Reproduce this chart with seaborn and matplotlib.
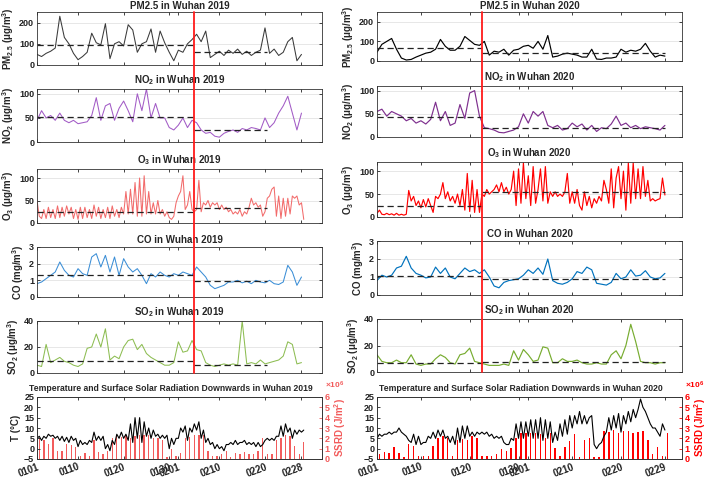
import numpy as np
import seaborn as sns
import matplotlib.pyplot as plt
from matplotlib.lines import Line2D
from matplotlib.ticker import FuncFormatter

sns.set_theme(style='ticks')
plt.rcParams['font.family'] = ['Liberation Sans', 'DejaVu Sans']
plt.rcParams['font.weight'] = 'bold'
plt.rcParams['axes.labelweight'] = 'bold'
plt.rcParams['axes.titleweight'] = 'bold'
plt.rcParams['mathtext.fontset'] = 'custom'
plt.rcParams['mathtext.rm'] = 'Liberation Sans:bold'
plt.rcParams['mathtext.it'] = 'Liberation Sans:bold'
plt.rcParams['mathtext.bf'] = 'Liberation Sans:bold'
plt.rcParams['mathtext.default'] = 'bf'

# ---- data (days since 1 Jan) ----
pm25_2019 = [50, 40, 55, 65, 80, 230, 130, 100, 55, 25, 40, 60, 150, 105, 95, 195, 30, 100, 110, 90,
             190, 165, 60, 100, 110, 170, 60, 160, 105, 60, 20, 70, 60, 100, 120, 145, 110, 160, 35, 50,
             65, 45, 70, 55, 75, 50, 65, 45, 60, 70, 175, 55, 75, 45, 60, 110, 130, 20, 50]
no2_2019 = [45, 65, 50, 55, 45, 60, 45, 40, 45, 38, 40, 42, 55, 92, 45, 75, 80, 45, 70, 85,
            65, 42, 100, 65, 110, 50, 80, 50, 50, 30, 25, 35, 50, 30, 45, 40, 25, 18, 20, 12,
            10, 18, 22, 25, 20, 28, 25, 30, 28, 25, 50, 30, 40, 60, 75, 95, 60, 25, 60]
o3_2019 = [50, 15, 10, 30, 10, 35, 12, 30, 10, 38, 12, 35, 15, 38, 20, 35, 10, 30, 8, 35,
           10, 35, 12, 30, 10, 40, 15, 35, 10, 30, 12, 35, 10, 38, 15, 30, 12, 35, 20, 70,
           20, 75, 20, 90, 15, 100, 15, 105, 20, 70, 20, 45, 20, 50, 20, 30, 15, 25, 12, 8,
           15, 45, 60, 70, 105, 30, 40, 70, 30, 25, 30, 95, 25, 45, 40, 50, 35, 45, 40, 45,
           30, 40, 30, 35, 25, 30, 20, 25, 20, 30, 15, 25, 20, 35, 55, 40, 45, 35, 40, 15,
           25, 55, 60, 75, 80, 15, 60, 10, 55, 15, 55, 20, 60, 55, 60, 40, 45, 8]
co_2019 = [0.8, 0.9, 1.1, 1.3, 1.5, 2.1, 1.6, 1.3, 1.2, 1.7, 1.4, 1.3, 2.4, 2.6, 1.8, 2.5, 1.5, 2.4, 1.3, 2.3,
           1.8, 1.5, 1.7, 1.3, 0.8, 1.4, 1.2, 1.5, 1.3, 1.2, 1.4, 1.3, 1.5, 1.4, 1.3, 1.8, 1.5, 1.2, 0.7, 0.5,
           0.6, 0.7, 0.9, 0.9, 1.0, 0.85, 0.95, 0.8, 1.0, 0.9, 0.85, 1.0, 0.8, 0.75, 0.9, 1.9, 1.5, 0.7, 1.2]
so2_2019 = [6, 5, 22, 8, 10, 12, 9, 8, 6, 5, 7, 19, 20, 30, 20, 34, 10, 13, 11, 20,
            25, 26, 18, 22, 15, 12, 10, 8, 6, 6, 8, 24, 16, 17, 25, 18, 17, 8, 6, 5,
            6, 7, 6, 7, 6, 40, 7, 8, 7, 10, 7, 8, 9, 10, 13, 24, 22, 7, 8]
temp_2019 = [5, 6, 4, 6, 5, 7, 6, 6.5, 5, 6, 4, 6, 3.5, 5.5, 3, 6, 4, 5, 1, 4,
             2, 3, 2, 4, 3, 8, 4, 6, 4, 6, 0, 2, -1, 4, 2, 7, 5, 8, 5, 7,
             4, 12, 3, 15, 5, 15, 3, 13, 6, 10, 5, 9, 6, 7, 5, 6.5, 5, 6.5, 0, 5,
             2, 5, 5, 10, 8, 11, 4, 10, 8, 12, 9, 13, 5, 9, 3, 5, 2, 3, 0, 2,
             0, 1, -1, 2, 2, 3, 2, 4, 2, 3, 3, 4, 2, 3, 2, 3, 1, 3, 1, 2,
             4, 5, 4, 5, 4, 6, 6, 11, 6, 12, 8, 10, 5, 9, 7, 9, 8, 9]
ssrd_2019 = [2.0, 1.8, 1.5, 2.0, 0.8, 0.8, 1.5, 1.4, 1.2, 0.3, 0.6, 0.3, 1.8, 0.7, 0.5, 0.8, 2.0, 2.2, 2.1, 2.3,
             2.0, 2.2, 2.3, 2.3, 2.3, 2.0, 2.0, 1.8, 0.2, 1.0, 0.3, 0.6, 2.0, 2.1, 2.3, 2.3, 2.3, 0.8, 0.3, 0.3,
             0.5, 0.8, 0.2, 0.6, 0.5, 0.7, 0.5, 0.5, 0.8, 2.0, 0.5, 0.5, 1.8, 2.0, 2.3, 2.2, 1.3, 0.5, 1.6]

pm25_2020 = [45, 85, 100, 115, 60, 15, 5, 8, 20, 30, 40, 45, 60, 110, 75, 55, 55, 75, 125, 105,
             85, 80, 100, 30, 50, 45, 60, 30, 55, 60, 75, 80, 65, 100, 60, 130, 20, 25, 35, 40,
             35, 30, 20, 20, 60, 10, 8, 15, 15, 20, 60, 45, 55, 50, 60, 90, 50, 20, 30, 25]
no2_2020 = [55, 60, 45, 55, 50, 45, 35, 40, 30, 35, 28, 38, 75, 35, 55, 25, 30, 70, 40, 95,
            100, 45, 20, 18, 15, 10, 9, 12, 15, 22, 50, 30, 55, 45, 55, 25, 20, 25, 15, 18,
            30, 22, 28, 15, 25, 12, 20, 18, 28, 45, 25, 30, 20, 25, 18, 22, 20, 18, 15, 25]
o3_2020 = [8, 15, 6, 5, 8, 5, 7, 4, 8, 4, 6, 4, 6, 58, 35, 45, 25, 35, 20, 38,
           22, 40, 25, 10, 45, 40, 50, 75, 40, 55, 35, 45, 30, 50, 25, 60, 15, 95, 12, 80,
           10, 60, 10, 50, 45, 60, 50, 55, 60, 70, 55, 75, 55, 65, 50, 60, 100, 25, 105, 30,
           118, 40, 90, 25, 110, 30, 60, 105, 35, 110, 30, 55, 45, 55, 45, 50, 45, 55, 95, 30,
           55, 30, 60, 25, 15, 55, 25, 45, 20, 40, 30, 45, 35, 80, 60, 30, 105, 20, 85, 110,
           40, 100, 15, 118, 30, 118, 40, 105, 40, 110, 45, 80, 35, 40, 35, 38, 40, 85, 48]
co_2020 = [0.8, 1.1, 1.0, 1.1, 1.5, 1.6, 2.15, 1.5, 1.2, 1.1, 0.95, 1.0, 1.55, 1.2, 1.5, 1.0, 0.9, 1.2, 1.5, 1.3,
           1.4, 1.2, 1.4, 1.0, 0.5, 0.4, 0.7, 0.8, 0.85, 0.9, 1.1, 1.4, 1.2, 1.5, 1.15, 2.0, 0.8, 0.65, 0.6, 0.7,
           0.9, 1.3, 1.2, 1.55, 1.4, 0.65, 0.6, 0.55, 0.7, 1.2, 0.9, 1.0, 1.4, 1.05, 1.1, 1.35, 1.0, 0.9, 0.95, 1.2]
so2_2020 = [13, 8, 7, 7, 9, 7, 7, 13, 6, 5, 6, 6, 10, 13, 11, 7, 6, 13, 14, 18,
            8, 7, 6, 5, 5, 5, 6, 5, 16, 9, 17, 13, 8, 9, 19, 18, 7, 7, 10, 8,
            8, 9, 7, 6, 6, 7, 6, 6, 13, 16, 10, 20, 36, 23, 8, 7, 7, 6, 7, 7]
temp_2020 = [5, 7, 6, 7, 7, 8, 7, 8, 8, 10, 8, 7, 6, 4, 3, 7, 2, 6, 2, 3,
             3, 6, 5, 8, 5, 9, 6, 9, 5, 6, 3, 6, 2, 10, 3, 11, 5, 11, 6, 8,
             6, 8, 7, 8, 7, 8, 6, 7, 5, 6, 5, 6, 3, 2, 2, 5, 4, 12, 5, 13,
             5, 13, 6, 14, 5, 14, 5, 15, 4, 14, 5, 13, 3, 8, 4, 12, 6, 14, 7, 16,
             10, 16, 12, 18, 12, 16, 12, 15, 16, 2, 0, 2, 3, 6, 8, 15, 9, 16, 10, 17,
             8, 16, 12, 18, 13, 19, 15, 19, 24, 20, 18, 15, 12, 10, 10, 8, 6, 12, 9]
ssrd_2020 = [0.5, 0.7, 0.6, 1.2, 0.6, 0.2, 1.5, 1.3, 0.3, 0.3, 0.3, 1.3, 2.0, 2.2, 2.0, 0.3, 1.8, 1.9, 1.8, 2.2,
             2.0, 0.3, 0.3, 0.3, 0.5, 1.0, 0.8, 1.1, 2.0, 2.5, 2.5, 2.5, 2.5, 2.4, 2.0, 2.5, 1.1, 0.3, 1.2, 1.7,
             2.4, 0.2, 1.8, 2.0, 0.2, 0.2, 2.7, 2.6, 2.8, 2.5, 2.7, 2.7, 2.5, 2.6, 2.7, 1.8, 0.5, 1.2, 0.3, 2.5]

# period means (dashed lines): before / after the event
means_2019 = {'pm': [95, 62], 'no2': [51, 25], 'o3': [25, 33], 'co': [1.35, 0.95], 'so2': [9.5, 6.5]}
means_2020 = {'pm': [64, 42], 'no2': [43, 20], 'o3': [24.5, 55.5], 'co': [1.06, 0.88], 'so2': [7, 7.5]}
event_2019, end_2019 = 34.5, 50.5
event_2020, end_2020 = 21.5, 59

ticks_2019 = ['0101', '0110', '0120', '0130', '0201', '0210', '0220', '0228']
ticks_2020 = ['0101', '0110', '0120', '0130', '0201', '0210', '0220', '0229']
tick_days_2019 = [0, 9, 19, 29, 31, 40, 50, 58]
tick_days_2020 = [0, 9, 19, 29, 31, 40, 50, 59]

fig = plt.figure(figsize=(7.09, 4.8), dpi=100)
W, H = 709, 480


def rect(x0, x1, y0, y1):
    return [x0 / W, 1 - y1 / H, (x1 - x0) / W, (y1 - y0) / H]


def style(ax, tick_days):
    ax.set_xlim(0, 62.5)
    ax.set_xticks(tick_days)
    ax.tick_params(direction='in', top=True, right=True, length=2.5, width=0.6,
                   labelsize=6.5, pad=2, colors='#222222')
    for s in ax.spines.values():
        s.set_linewidth(0.6)
        s.set_color('#333333')


def title(ax, text, size, off, dx=0):
    ax.annotate(text, xy=(0.5, 1), xycoords='axes fraction', xytext=(dx, off),
                textcoords='offset points', ha='center', va='bottom',
                fontsize=size, fontweight='bold')


def pollutant(ax, vals, color, lw, name, ylabel, ylim, yticks, means, event, end, tick_days, off):
    step = 1 if len(vals) <= 60 else 0.5
    x = np.arange(len(vals)) * step
    ax.grid(axis='y', color='#e3e3e3', lw=0.6)
    sns.lineplot(x=x, y=vals, ax=ax, color=color, lw=lw, legend=False)
    ax.plot([0, event], [means[0]] * 2, ls=(0, (5, 3)), color='#222222', lw=0.9)
    ax.plot([event, end], [means[1]] * 2, ls=(0, (5, 3)), color='#222222', lw=0.9)
    ax.set_ylim(*ylim)
    ax.set_yticks(yticks)
    style(ax, tick_days)
    ax.set_xticklabels([])
    ax.set_xlabel('')
    title(ax, name, 7, off)
    ax.set_ylabel(ylabel, fontsize=7, labelpad=2)


def weather(ax, temp, ssrd, bar_color, name, labels, tick_days, show_tlabel):
    ax2 = ax.twinx()
    days = np.arange(len(ssrd))
    ax2.bar(days + 0.5, np.array(ssrd) * 1e6, width=0.3, color=bar_color, lw=0)
    ax2.set_ylim(0, 6e6)
    ax2.set_yticks(np.arange(0, 7) * 1e6)
    ax2.yaxis.set_major_formatter(FuncFormatter(lambda v, p: f'{v / 1e6:.0f}'))
    ax2.tick_params(direction='in', length=2.5, width=0.6, labelsize=6.5, pad=2,
                    colors=bar_color)
    ax2.set_ylabel('SSRD (J/m$^2$)', fontsize=7, color=bar_color, labelpad=2)
    ax2.annotate('×10$^6$', xy=(1, 1), xycoords='axes fraction', xytext=(2, 4),
                 textcoords='offset points', ha='left', va='bottom',
                 fontsize=6, color=bar_color)
    for s in ax2.spines.values():
        s.set_linewidth(0.6)
        s.set_color('#333333')
    ax.set_zorder(ax2.get_zorder() + 1)
    ax.patch.set_visible(False)

    x = np.arange(len(temp)) * 0.5
    sns.lineplot(x=x, y=temp, ax=ax, color='black', lw=0.8, legend=False)
    ax.set_ylim(-5, 25)
    ax.set_yticks(range(-5, 30, 5))
    style(ax, tick_days)
    ax.tick_params(right=False)
    ax2.set_xlim(0, 62.5)
    ax.set_xticklabels(labels, rotation=20, ha='right', rotation_mode='anchor', fontsize=7)
    ax.set_xlabel('')
    title(ax, name, 6.2, 3, dx=-6)
    ax.set_ylabel('T (°C)' if show_tlabel else '', fontsize=7, labelpad=2)


columns = [
    dict(year=2019, x=(37, 322), rows=[(12, 65), (89, 142), (169, 223), (247, 297), (321, 373), (397, 459)],
         series=[pm25_2019, no2_2019, o3_2019, co_2019, so2_2019], means=means_2019,
         colors=['#3a3a3a', '#a25bc6', '#f26b6b', '#3b8ed6', '#8dbd52'], lw=0.75,
         event=event_2019, end=end_2019, ticks=tick_days_2019, labels=ticks_2019,
         temp=temp_2019, ssrd=ssrd_2019, bar='#f25c5c', tlabel=True),
    dict(year=2020, x=(377, 682), rows=[(12, 61), (86, 137), (162, 217), (241, 295), (319, 372), (397, 459)],
         series=[pm25_2020, no2_2020, o3_2020, co_2020, so2_2020], means=means_2020,
         colors=['#000000', '#7e2f8e', '#ff0000', '#0072bd', '#77ac30'], lw=0.85,
         event=event_2020, end=end_2020, ticks=tick_days_2020, labels=ticks_2020,
         temp=temp_2020, ssrd=ssrd_2020, bar='#ff0000', tlabel=False),
]

names = ['PM2.5', 'NO$_2$', 'O$_3$', 'CO', 'SO$_2$']
ylabels = ['PM$_{2.5}$ (μg/m$^3$)', 'NO$_2$ (μg/m$^3$)', 'O$_3$ (μg/m$^3$)',
           'CO (mg/m$^3$)', 'SO$_2$ (μg/m$^3$)']
ylims = [(0, 250), (0, 110), (0, 120), (0, 3), (0, 40)]
yticks = [[0, 100, 200], [0, 50, 100], [0, 50, 100], [0, 1, 2, 3], [0, 20, 40]]
keys = ['pm', 'no2', 'o3', 'co', 'so2']

for col in columns:
    axes = []
    for i in range(5):
        y0, y1 = col['rows'][i]
        ax = fig.add_axes(rect(col['x'][0], col['x'][1], y0, y1))
        pollutant(ax, col['series'][i], col['colors'][i], col['lw'],
                  f"{names[i]} in Wuhan {col['year']}", ylabels[i], ylims[i], yticks[i],
                  col['means'][keys[i]], col['event'], col['end'], col['ticks'],
                  0.8 if i == 0 else 1.5)
        axes.append(ax)
    y0, y1 = col['rows'][5]
    axw = fig.add_axes(rect(col['x'][0], col['x'][1], y0, y1))
    weather(axw, col['temp'], col['ssrd'], col['bar'],
            f"Temperature and Surface Solar Radiation Downwards in Wuhan {col['year']}",
            col['labels'], col['ticks'], col['tlabel'])

    # red event line across the five pollutant panels
    to_fig = fig.transFigure.inverted()
    xf = to_fig.transform(axes[0].transData.transform((col['event'], 0)))[0]
    ytop = axes[0].get_position().y1
    ybot = axes[-1].get_position().y0
    fig.add_artist(Line2D([xf, xf], [ybot, ytop], color='#ff1a1a', lw=1.3,
                          transform=fig.transFigure, zorder=10))

fig.savefig('out.png', dpi=100)
